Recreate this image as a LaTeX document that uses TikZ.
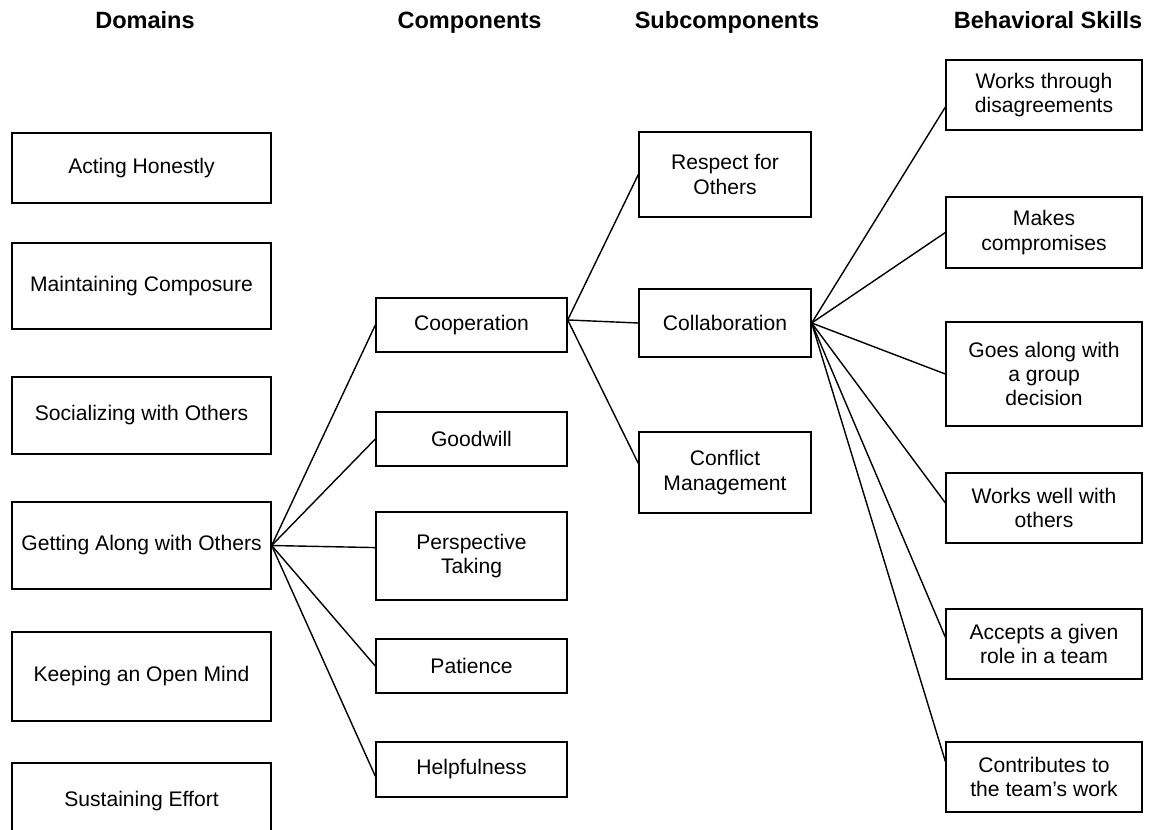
\documentclass[tikz,border=0pt]{standalone}
\usepackage{fontspec}
\setmainfont{Liberation Sans}
\begin{document}
\begin{tikzpicture}[x=0.02cm,y=-0.02cm,
  box/.style={draw,line width=0.8pt,inner sep=0pt,align=center,font=\fontsize{12}{13.8}\selectfont},
  dom/.style={box,minimum width=5.18cm},
  cmp/.style={box,minimum width=3.82cm},
  sub/.style={box,minimum width=3.44cm},
  skl/.style={box,minimum width=3.92cm},
  head/.style={font=\fontsize{13.4}{16}\selectfont\bfseries,anchor=base},
  link/.style={line width=0.8pt}]
  \useasboundingbox (0,0) rectangle (1156,829);
  \node[head] (hdom) at (145,28) {Domains};
  \node[head] (hcmp) at (469.5,28) {Components};
  \node[head] (hsub) at (727,28) {Subcomponents};
  \node[head] (hskl) at (1048,28) {Behavioral Skills};
  \node[dom,minimum height=1.4cm] (act) at (141.5,168) {Acting Honestly};
  \node[dom,minimum height=1.72cm] (compo) at (141.5,286) {Maintaining Composure};
  \node[dom,minimum height=1.54cm] (soc) at (141.5,415.5) {Socializing with Others};
  \node[dom,minimum height=1.74cm] (get) at (141.5,545.5) {Getting Along with Others};
  \node[dom,minimum height=1.78cm] (open) at (141.5,676.5) {Keeping an Open Mind};
  \node[dom,minimum height=1.54cm] (sus) at (141.5,801.5) {Sustaining Effort};
  \node[cmp,minimum height=1.08cm] (coop) at (471.5,325) {Cooperation};
  \node[cmp,minimum height=1.08cm] (good) at (471.5,439) {Goodwill};
  \node[cmp,minimum height=1.76cm] (persp) at (471.5,556) {Perspective\\Taking};
  \node[cmp,minimum height=1.08cm] (pat) at (471.5,666) {Patience};
  \node[cmp,minimum height=1.1cm] (help) at (471.5,769.5) {Helpfulness};
  \node[sub,minimum height=1.7cm] (resp) at (725,174.5) {Respect for\\Others};
  \node[sub,minimum height=1.36cm] (collab) at (725,323) {Collaboration};
  \node[sub,minimum height=1.62cm] (confl) at (725,472.5) {Conflict\\Management};
  \node[skl,minimum height=1.4cm] (disag) at (1044,95) {Works through\\disagreements};
  \node[skl,minimum height=1.42cm] (compr) at (1044,232.5) {Makes\\compromises};
  \node[skl,minimum height=2.08cm] (group) at (1044,374) {Goes along with\\a group\\decision};
  \node[skl,minimum height=1.4cm] (well) at (1044,508) {Works well with\\others};
  \node[skl,minimum height=1.4cm] (role) at (1044,644) {Accepts a given\\role in a team};
  \node[skl,minimum height=1.4cm] (contr) at (1044,777) {Contributes to\\the team's work};
  \draw[link] (get.east) -- (coop.west);
  \draw[link] (get.east) -- (good.west);
  \draw[link] (get.east) -- (persp.175);
  \draw[link] (get.east) -- (pat.west);
  \draw[link] (get.east) -- (help.184);
  \draw[link] (coop.3) -- (resp.west);
  \draw[link] (coop.3) -- (collab.west);
  \draw[link] (coop.3) -- (confl.174);
  \draw[link] (collab.east) -- (disag.187);
  \draw[link] (collab.east) -- (compr.west);
  \draw[link] (collab.east) -- (group.west);
  \draw[link] (collab.east) -- (well.177);
  \draw[link] (collab.east) -- (role.176);
  \draw[link] (collab.east) -- (contr.171);
\end{tikzpicture}
\end{document}
